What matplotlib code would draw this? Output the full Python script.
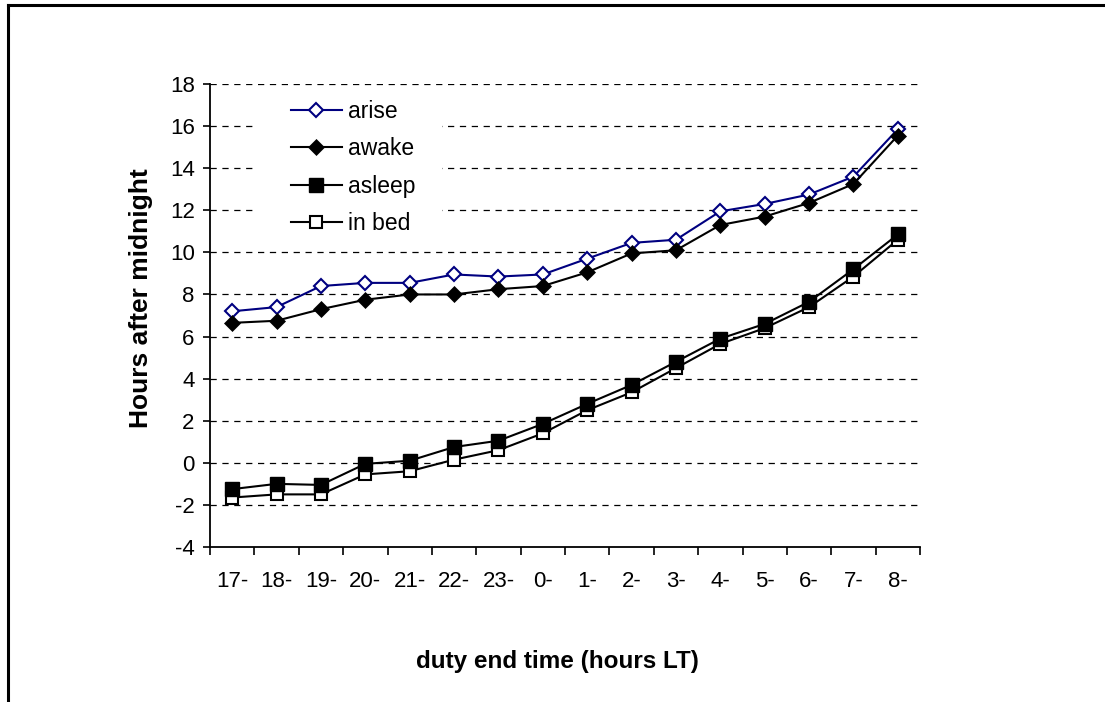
import matplotlib
matplotlib.use("Agg")
import matplotlib.pyplot as plt
from matplotlib.lines import Line2D
from matplotlib.patches import Rectangle
import numpy as np

categories = ['17-', '18-', '19-', '20-', '21-', '22-', '23-', '0-',
              '1-', '2-', '3-', '4-', '5-', '6-', '7-', '8-']
arise = [7.2, 7.4, 8.4, 8.55, 8.55, 8.95, 8.85, 8.95,
         9.7, 10.45, 10.6, 11.95, 12.3, 12.75, 13.6, 15.85]
awake = [6.65, 6.75, 7.3, 7.75, 8.0, 8.0, 8.25, 8.4,
         9.05, 9.95, 10.1, 11.3, 11.7, 12.35, 13.25, 15.55]
asleep = [-1.25, -1.0, -1.05, -0.05, 0.1, 0.75, 1.05, 1.85,
          2.8, 3.7, 4.8, 5.9, 6.6, 7.65, 9.2, 10.85]
in_bed = [-1.65, -1.5, -1.5, -0.55, -0.4, 0.15, 0.6, 1.4,
          2.5, 3.35, 4.5, 5.65, 6.4, 7.4, 8.85, 10.6]
y_ticks = list(range(-4, 19, 2))

plt.rcParams['font.family'] = ['Liberation Sans', 'DejaVu Sans']

W, H = 1105, 702
fig = plt.figure(figsize=(W / 100, H / 100), dpi=100)
ax = fig.add_axes([210 / W, 1 - 547 / H, 710 / W, (547 - 84) / H])

x = np.arange(len(categories))
navy = '#000080'

l_bed, = ax.plot(x, in_bed, color='black', lw=1.5, marker='s', ms=9,
                 mfc='white', mec='black', mew=1.5, zorder=3)
l_arise, = ax.plot(x, arise, color=navy, lw=1.5, marker='D', ms=7,
                   mfc='white', mec=navy, mew=1.5, zorder=3)
l_awake, = ax.plot(x, awake, color='black', lw=1.5, marker='D', ms=8,
                   mfc='black', mec='black', mew=0.5, zorder=4)
l_asleep, = ax.plot(x, asleep, color='black', lw=1.5, marker='s', ms=10.5,
                    mfc='black', mec='black', mew=1, zorder=4)

ax.set_xlim(-0.5, len(categories) - 0.5)
ax.set_ylim(-4, 18)
ax.set_yticks(y_ticks)
ax.set_yticklabels([str(v) for v in y_ticks])
ax.set_xticks(x)
ax.set_xticklabels(categories)
ax.set_xticks(np.arange(len(categories) + 1) - 0.5, minor=True)

ax.tick_params(axis='x', which='major', length=0, pad=17, labelsize=16)
ax.tick_params(axis='x', which='minor', length=6, width=1.2, direction='out')
ax.tick_params(axis='y', which='major', length=5, width=1.2, direction='out',
               pad=6, labelsize=16)

for s in ['top', 'right']:
    ax.spines[s].set_visible(False)
for s in ['left', 'bottom']:
    ax.spines[s].set_linewidth(1.3)

for v in y_ticks:
    if v > -4:
        ax.axhline(v, color='black', lw=0.9, ls=(0, (5, 4.5)), zorder=1)

ax.set_ylabel('Hours after midnight', fontsize=19, fontweight='bold')
ax.yaxis.set_label_coords(-0.080, 0.538)
ax.set_xlabel('duty end time (hours LT)', fontsize=17.5, fontweight='bold')
ax.xaxis.set_label_coords(0.49, -0.222)

# white background behind the legend (hides the gridlines there)
ax.add_patch(Rectangle((257 / W, 1 - 245 / H), (442 - 257) / W,
                       (245 - 90) / H, transform=fig.transFigure,
                       facecolor='white', edgecolor='none', zorder=2))

leg = ax.legend([l_arise, l_awake, l_asleep, l_bed],
                ['arise', 'awake', 'asleep', 'in bed'],
                loc='upper left', bbox_to_anchor=(282 / W, 1 - 91 / H),
                bbox_transform=fig.transFigure, borderaxespad=0,
                frameon=False, fontsize=16.5, numpoints=1,
                handlelength=2.2, handletextpad=0.27, labelspacing=0.62,
                borderpad=0.4)
leg.set_zorder(5)

# outer frame (top and left edges visible)
fig.add_artist(Line2D([8 / W, 1103 / W], [1 - 5 / H, 1 - 5 / H],
                      transform=fig.transFigure, color='black', lw=2.2))
fig.add_artist(Line2D([8 / W, 8 / W], [1 - 5 / H, 0],
                      transform=fig.transFigure, color='black', lw=2.2))

fig.savefig('out.png', dpi=100, facecolor='white')
